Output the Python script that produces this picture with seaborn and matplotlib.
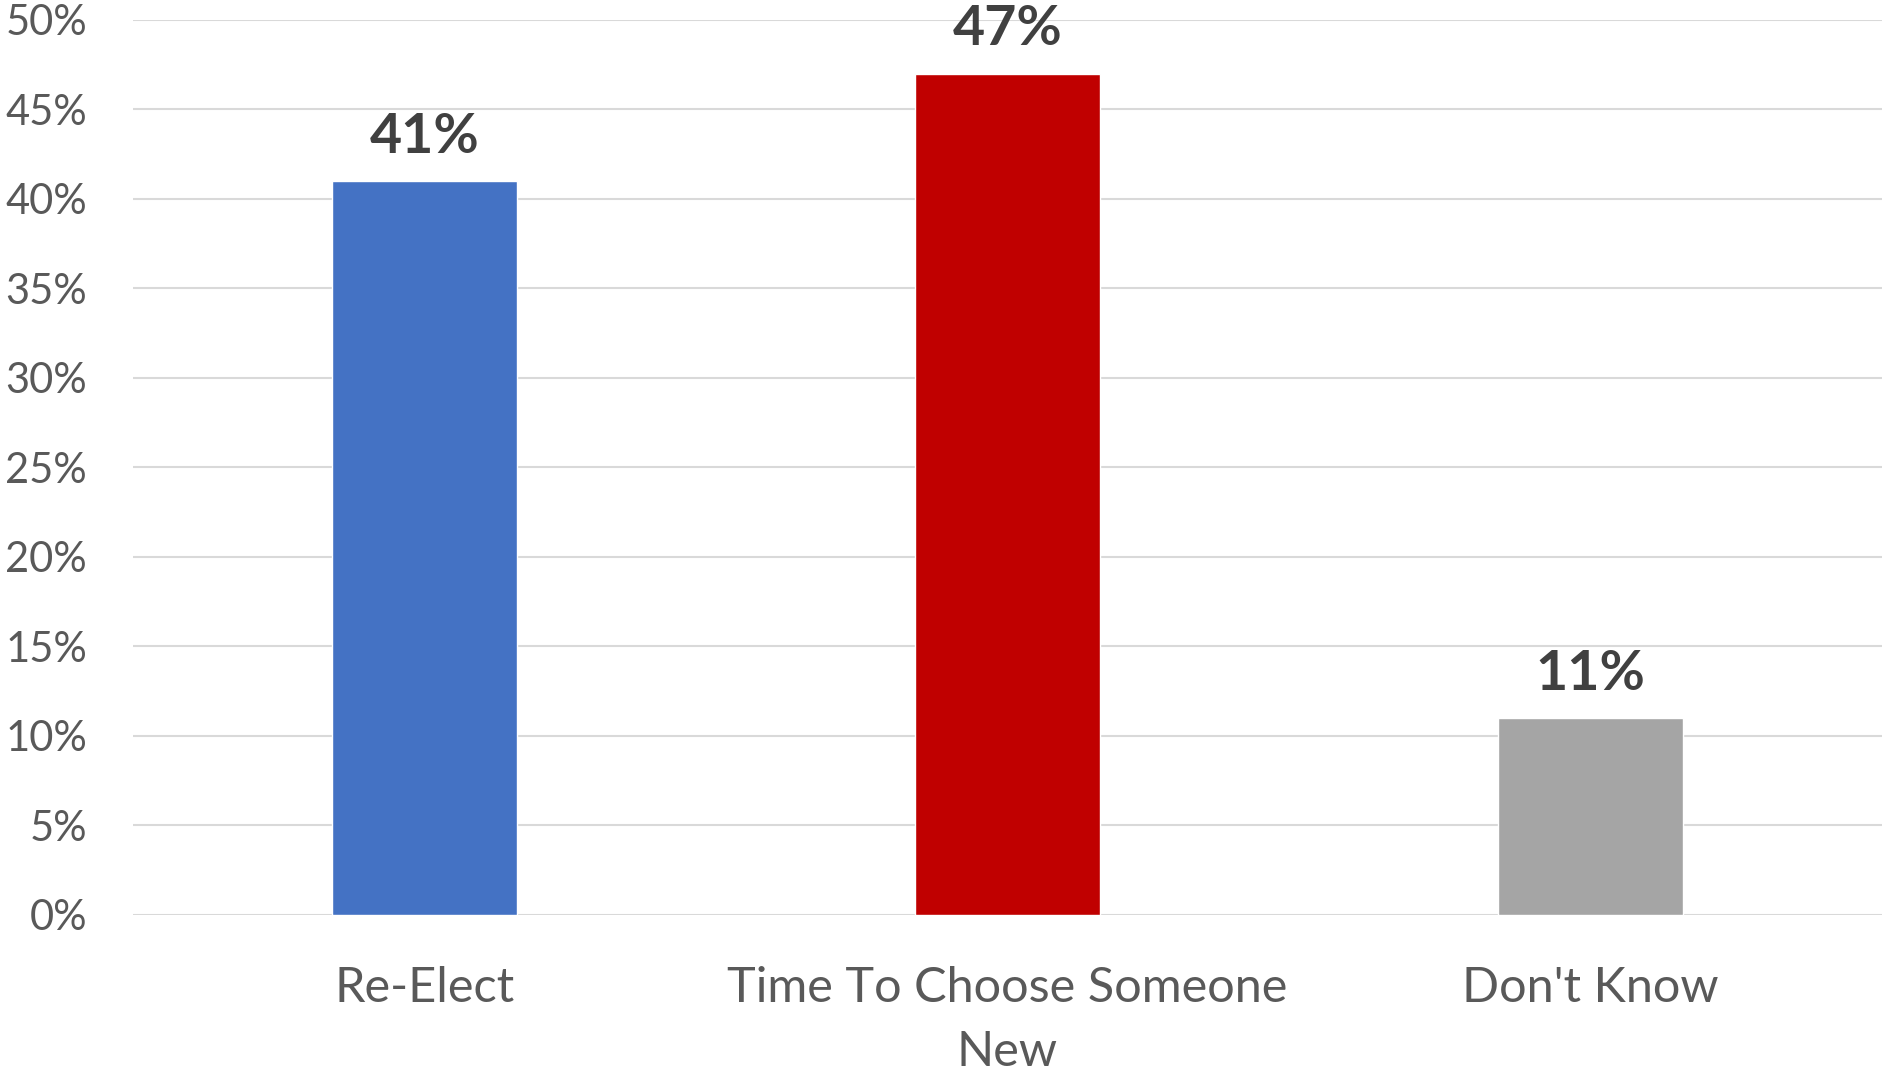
import pandas as pd
import matplotlib.pyplot as plt
import seaborn as sns
from matplotlib.ticker import FuncFormatter

# data
categories = ['Re-Elect', 'Time To Choose Someone\nNew', "Don't Know"]
values = [41, 47, 11]
colors = ['#4472C4', '#C00000', '#A5A5A5']
y_ticks = list(range(0, 51, 5))

df = pd.DataFrame({'answer': categories, 'pct': values})

sns.set_style('white')
plt.rcParams['font.family'] = ['Lato', 'DejaVu Sans']

fig = plt.figure(figsize=(18.82, 10.73), dpi=100)
ax = fig.add_axes([0.0707, 0.1473, 0.9293, 0.8341])

sns.barplot(data=df, x='answer', y='pct', hue='answer', palette=colors,
            width=0.316, legend=False, ax=ax, saturation=1)

ax.set_ylim(0, 50)
ax.set_xlim(-0.5, 2.5)
ax.set_yticks(y_ticks)
ax.yaxis.set_major_formatter(FuncFormatter(lambda v, p: f'{v:.0f}%'))
ax.grid(axis='y', color='#D9D9D9', linewidth=1.5)
ax.set_axisbelow(True)
for s in ax.spines.values():
    s.set_visible(False)

ax.tick_params(axis='y', length=0, pad=33, labelsize=30, labelcolor='#595959')
ax.tick_params(axis='x', length=0, pad=37, labelsize=35, labelcolor='#595959')
for lbl in ax.get_xticklabels():
    lbl.set_linespacing(1.55)
ax.set_xlabel('')
ax.set_ylabel('')

for c in ax.containers:
    ax.bar_label(c, fmt='%.0f%%', padding=14, fontsize=40,
                 fontweight='bold', color='#404040')

plt.savefig('out.png', dpi=100)
